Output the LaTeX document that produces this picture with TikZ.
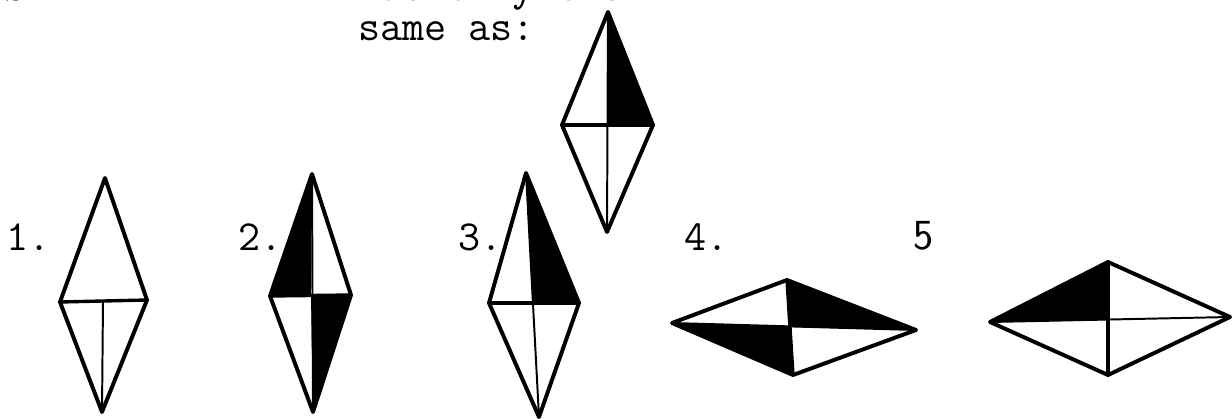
\documentclass[tikz,border=0pt]{standalone}
\usepackage{fontspec}
\tikzset{
  rim/.style={line width=2.8pt},
  axis/.style={line width=1.4pt},
  bar/.style={line width=2.4pt},
  ink/.style={fill=black},
  lbl/.style={anchor=base west,inner sep=0pt,font=\fontsize{30.5}{34}\selectfont\ttfamily},
}

\begin{document}
\begin{tikzpicture}[x=0.025cm,y=-0.025cm,line cap=round,line join=round]
  \useasboundingbox (0,0) rectangle (1232,419);
  \clip (0,0) rectangle (1232,419);
  \node[lbl] (head) at (4,1) {SAMPLE~~ITEM:~~~Identify the};
  \node[lbl] (cue) at (358,41) {same as:};

  % target figure
  \coordinate (Tt) at (608,12); \coordinate (Tl) at (562,125); \coordinate (Tr) at (653,125);
  \coordinate (Tb) at (607,232); \coordinate (Tc) at (608,125);
  \fill[ink] (Tt)--(Tc)--(Tr)--cycle;
  \draw[axis] (Tt)--(Tb); \draw[bar] (Tl)--(Tr);
  \draw[rim] (Tt)--(Tl)--(Tb)--(Tr)--cycle;

  % choice 1
  \coordinate (At) at (105,178); \coordinate (Al) at (60,302); \coordinate (Ar) at (147,300);
  \coordinate (Ab) at (102,412); \coordinate (Ac) at (103,301);
  \draw[axis] (Ac)--(Ab); \draw[bar] (Al)--(Ar);
  \draw[rim] (At)--(Al)--(Ab)--(Ar)--cycle;
  \node[lbl] (n1) at (6,251) {1.};

  % choice 2
  \coordinate (Bt) at (312,174); \coordinate (Bl) at (270,296); \coordinate (Br) at (351,295);
  \coordinate (Bb) at (313,412); \coordinate (Bc) at (311,296);
  \fill[ink] (Bt)--(Bl)--(Bc)--cycle; \fill[ink] (Bc)--(Br)--(Bb)--cycle;
  \draw[axis] (Bt)--(Bb); \draw[bar] (Bl)--(Br);
  \draw[rim] (Bt)--(Bl)--(Bb)--(Br)--cycle;
  \node[lbl] (n2) at (238,251) {2.};

  % choice 3
  \coordinate (Ct) at (526,173); \coordinate (Cl) at (489,303); \coordinate (Cr) at (579,303);
  \coordinate (Cb) at (539,417); \coordinate (Cc) at (533,303);
  \fill[ink] (Ct)--(Cc)--(Cr)--cycle;
  \draw[axis] (Ct)--(Cb); \draw[bar] (Cl)--(Cr);
  \draw[rim] (Ct)--(Cl)--(Cb)--(Cr)--cycle;
  \node[lbl] (n3) at (458,251) {3.};

  % choice 4
  \coordinate (Dl) at (672,323); \coordinate (Dt) at (787,280); \coordinate (Dr) at (916,330);
  \coordinate (Db) at (793,375); \coordinate (Dc) at (790,327);
  \fill[ink] (Dt)--(Dc)--(Dr)--cycle; \fill[ink] (Dl)--(Dc)--(Db)--cycle;
  \draw[axis] (Dl)--(Dr); \draw[bar] (Dt)--(Db);
  \draw[rim] (Dl)--(Dt)--(Dr)--(Db)--cycle;
  \node[lbl] (n4) at (684,251) {4.};

  % choice 5
  \coordinate (El) at (990,322); \coordinate (Et) at (1108,262); \coordinate (Er) at (1230,317);
  \coordinate (Eb) at (1108,375); \coordinate (Ec) at (1108,320);
  \fill[ink] (El)--(Et)--(Ec)--cycle;
  \draw[axis] (El)--(Er); \draw[bar] (Et)--(Eb);
  \draw[rim] (El)--(Et)--(Er)--(Eb)--cycle;
  \node[lbl,font=\fontsize{30.5}{34}\selectfont\sffamily] (n5) at (913,250) {5};
\end{tikzpicture}
\end{document}
